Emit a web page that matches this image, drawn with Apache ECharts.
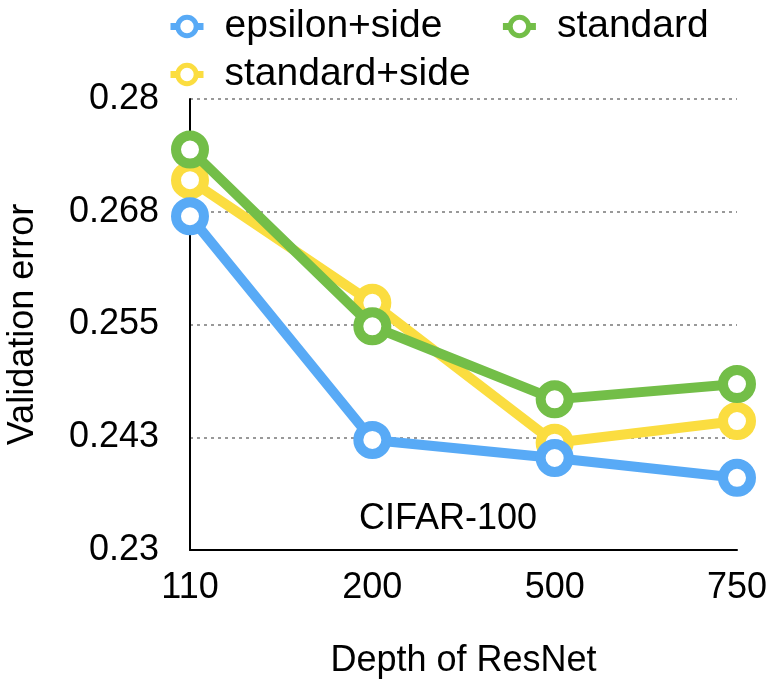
<!DOCTYPE html>
<html>
<head>
<meta charset="utf-8">
<script src="https://cdn.jsdelivr.net/npm/echarts@6/dist/echarts.min.js"></script>
<style>html,body{margin:0;padding:0;background:#fff;}#c{width:776px;height:686px;}</style>
</head>
<body>
<div id="c"></div>
<script>
const categories = ['110', '200', '500', '750'];
const epsilonSide = [0.2670, 0.2422, 0.2402, 0.2380];
const standard = [0.2744, 0.2548, 0.2467, 0.2484];
const standardSide = [0.2710, 0.2574, 0.2419, 0.2443];
const yTickValues = [0.23, 0.2425, 0.255, 0.2675, 0.28];
const yTickLabels = ['0.23', '0.243', '0.255', '0.268', '0.28'];

const FONT = '"Liberation Sans", Arial, Helvetica, sans-serif';
const colors = { eps: '#58aaf6', std: '#73be48', stdSide: '#fbdd40' };

function mkSeries(name, data, color, z) {
  return {
    name: name, type: 'line', data: data, z: z,
    symbol: 'circle', symbolSize: 28,
    itemStyle: { color: '#ffffff', borderColor: color, borderWidth: 10 },
    lineStyle: { color: color, width: 10 },
    emphasis: { disabled: true }
  };
}

const legendCommon = {
  padding: 0, itemWidth: 33, itemHeight: 23,
  itemStyle: { borderWidth: 5 }, lineStyle: { width: 7 },
  textStyle: { fontFamily: FONT, fontSize: 39, color: '#000', padding: [0, 0, 0, 16] }
};

const chart = echarts.init(document.getElementById('c'));
chart.setOption({
  animation: false,
  backgroundColor: '#fff',
  textStyle: { fontFamily: FONT },
  title: {
    text: 'CIFAR-100', left: 448, top: 501, textAlign: 'center', padding: 0,
    textStyle: { fontFamily: FONT, fontSize: 36, fontWeight: 'normal', color: '#000' }
  },
  legend: [
    Object.assign({ data: ['epsilon+side', 'standard'], left: 167, top: 7, itemGap: 57 }, legendCommon),
    Object.assign({ data: ['standard+side'], left: 167, top: 55 }, legendCommon)
  ],
  grid: { left: 190, right: 39, top: 99, bottom: 136, containLabel: false, outerBoundsMode: 'none' },
  xAxis: {
    type: 'category', data: categories, boundaryGap: false,
    name: 'Depth of ResNet', nameLocation: 'middle', nameGap: 93,
    nameTextStyle: { fontFamily: FONT, fontSize: 36, color: '#000' },
    axisLine: { lineStyle: { color: '#000', width: 2 } },
    axisTick: { show: false },
    axisLabel: { fontFamily: FONT, fontSize: 36, color: '#000', margin: 20 },
    splitLine: { show: false }
  },
  yAxis: {
    type: 'value', min: 0.23, max: 0.28,
    name: 'Validation error', nameLocation: 'middle', nameGap: 149,
    nameTextStyle: { fontFamily: FONT, fontSize: 36, color: '#000' },
    axisLine: { show: true, lineStyle: { color: '#000', width: 2 } },
    axisTick: { show: false, customValues: yTickValues },
    axisLabel: {
      fontFamily: FONT, fontSize: 36, color: '#000', margin: 31,
      customValues: yTickValues,
      formatter: function (v) {
        let best = 0;
        for (let i = 0; i < yTickValues.length; i++) {
          if (Math.abs(yTickValues[i] - v) < Math.abs(yTickValues[best] - v)) best = i;
        }
        return yTickLabels[best];
      }
    },
    splitLine: { show: true, lineStyle: { color: '#999', width: 2, type: [3, 4] } }
  },
  series: [
    mkSeries('epsilon+side', epsilonSide, colors.eps, 3),
    mkSeries('standard+side', standardSide, colors.stdSide, 2),
    mkSeries('standard', standard, colors.std, 4)
  ]
});
</script>
</body>
</html>
